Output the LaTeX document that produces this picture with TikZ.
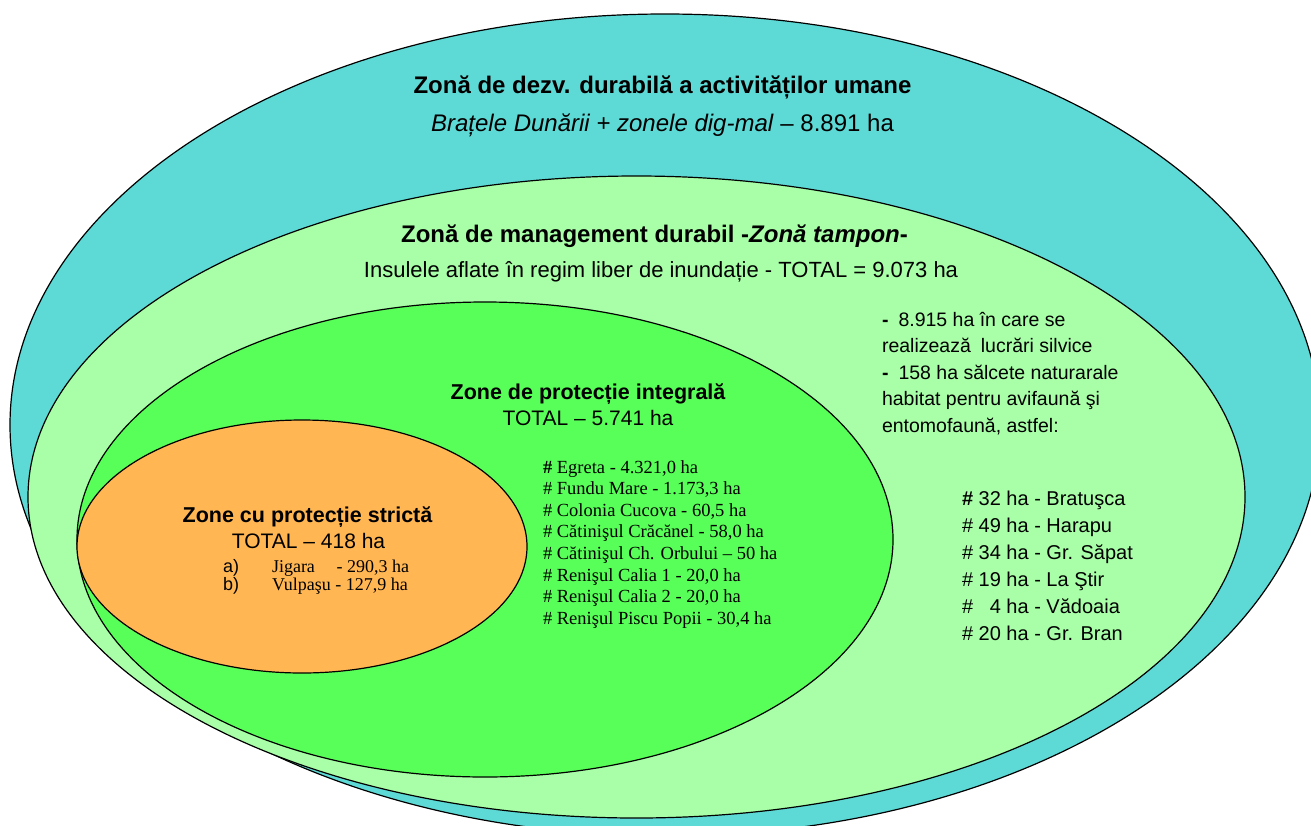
\documentclass[tikz,border=0pt]{standalone}
\usepackage{fontspec}
\setmainfont{Liberation Serif}
\newfontfamily\arialf{Liberation Sans}
\newcommand\setfs[1]{\fontsize{#1}{#1}\selectfont}
\definecolor{zteal}{RGB}{94,218,214}
\definecolor{zlight}{RGB}{168,255,168}
\definecolor{zgreen}{RGB}{88,255,88}
\definecolor{zorange}{RGB}{255,182,83}
\begin{document}
\begin{tikzpicture}[x=1pt,y=-1pt,
  zone/.style={draw=black,line width=1.2pt},
  lbl/.style={inner sep=0pt,outer sep=0pt,anchor=base},
  lblw/.style={inner sep=0pt,outer sep=0pt,anchor=base west},
  lble/.style={inner sep=0pt,outer sep=0pt,anchor=base east}]
\useasboundingbox (0,0) rectangle (1311,825);
\clip (0,0) rectangle (1311,825);
% zones
\path[zone,fill=zteal] (665,425) ellipse [x radius=655pt,y radius=411pt];
\path[zone,fill=zlight] (636.5,497) ellipse [x radius=608.5pt,y radius=321pt];
\path[zone,fill=zgreen] (485,539.5) ellipse [x radius=408pt,y radius=237.5pt];
\path[zone,fill=zorange] (302,546.5) ellipse [x radius=225pt,y radius=126.5pt];
% outer zone
\node[lbl,font=\arialf\setfs{24}\bfseries] (t1) at (662.5,93) {Zonă de dezv. durabilă a activităților umane};
\node[lbl,font=\arialf\setfs{24}] (t2) at (662.5,131) {\textit{Brațele Dunării + zonele dig-mal} – 8.891 ha};
% buffer zone
\node[lbl,font=\arialf\setfs{24}\bfseries] (m1) at (654.5,242) {Zonă de management durabil -\textit{Zonă tampon}-};
\node[lbl,font=\arialf\setfs{22}] (m2) at (661,277) {Insulele aflate în regim liber de inundație - TOTAL = 9.073 ha};
\begin{scope}[every node/.style={lblw,font=\arialf\setfs{19.5}}]
\node (r1) at (882,326) {\textbf{-}\hspace{10pt}8.915 ha în care se};
\node (r2) at (882,352.6) {realizează\hspace{10pt}lucrări silvice};
\node (r3) at (882,379.2) {\textbf{-}\hspace{10pt}158 ha sălcete naturarale};
\node (r4) at (882,405.8) {habitat pentru avifaună şi};
\node (r5) at (882,432.4) {entomofaună, astfel:};
\end{scope}
\begin{scope}[every node/.style={lblw,font=\arialf\setfs{20}}]
\node (s1) at (962,505) {\textbf{\#} 32 ha - Bratuşca};
\node (s2) at (962,532) {\# 49 ha - Harapu};
\node (s3) at (962,559) {\# 34 ha - Gr. Săpat};
\node (s4) at (962,586) {\# 19 ha - La Ştir};
\node (s5) at (962,613) {\# \phantom{0}4 ha - Vădoaia};
\node (s6) at (962,640) {\# 20 ha - Gr. Bran};
\end{scope}
% integral protection
\node[lbl,font=\arialf\setfs{21.5}\bfseries] (i1) at (588,399) {Zone de protecție integrală};
\node[lbl,font=\arialf\setfs{21}] (i2) at (588,425) {TOTAL – 5.741 ha};
\begin{scope}[every node/.style={lblw,font=\setfs{18.5}}]
\node (g1) at (543,473) {\textbf{\#} Egreta - 4.321,0 ha};
\node (g2) at (543,494.6) {\# Fundu Mare - 1.173,3 ha};
\node (g3) at (543,516.2) {\# Colonia Cucova - 60,5 ha};
\node (g4) at (543,537.8) {\# Cătinişul Crăcănel - 58,0 ha};
\node (g5) at (543,559.4) {\# Cătinişul Ch. Orbului – 50 ha};
\node (g6) at (543,581) {\# Renişul Calia 1 - 20,0 ha};
\node (g7) at (543,602.6) {\# Renişul Calia 2 - 20,0 ha};
\node (g8) at (543,624.2) {\# Renişul Piscu Popii - 30,4 ha};
\end{scope}
% strict protection
\node[lbl,font=\arialf\setfs{21.5}\bfseries] (o1) at (307.5,522) {Zone cu protecție strictă};
\node[lbl,font=\arialf\setfs{21}] (o2) at (308.5,548) {TOTAL – 418 ha};
\node[lblw,font=\arialf\setfs{18}] (oa) at (223,572) {a)};
\node[lblw,font=\setfs{18}] (oa1) at (272,572) {Jigara};
\node[lble,font=\setfs{18}] (oa2) at (409,572) {- 290,3 ha};
\node[lblw,font=\arialf\setfs{18}] (ob) at (223,590) {b)};
\node[lblw,font=\setfs{18}] (ob1) at (272,590) {Vulpaşu - 127,9 ha};
\end{tikzpicture}
\end{document}
